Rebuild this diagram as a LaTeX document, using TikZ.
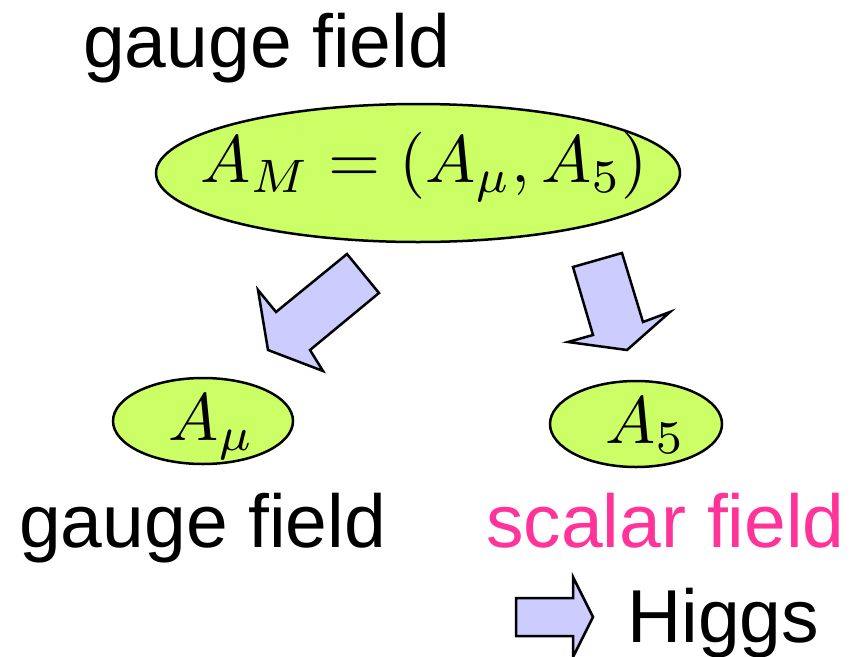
\documentclass[tikz,border=0pt]{standalone}
\usepackage{fontspec}
\setmainfont{Liberation Sans}
\usetikzlibrary{shapes.geometric}
\definecolor{ellfill}{HTML}{CCFF66}
\definecolor{arrfill}{HTML}{CCCCFF}
\definecolor{pinkt}{HTML}{FF3399}
\tikzset{
  ell/.style={ellipse, draw=black, line width=2.5pt, fill=ellfill, inner sep=0pt},
  blockarrow/.style={draw=black, line width=2.5pt, fill=arrfill, line join=miter},
  lbl/.style={font=\fontsize{75}{80}\selectfont, inner sep=0pt, anchor=base west},
  mathtxt/.style={font=\fontsize{10}{12}\selectfont, scale=6.7, inner sep=0pt, anchor=base west}
}
\begin{document}
\begin{tikzpicture}[x=1pt,y=-1pt]
\useasboundingbox (0,0) rectangle (854,656);
% top label
\node[lbl] (top) at (83,67) {gauge field};
% big ellipse
\node[ell, minimum width=524pt, minimum height=138pt] (AM) at (418,173) {};
\node[mathtxt] (AMt) at (199,182) {$A_M = (A_\mu, A_5)$};
% block arrows
\draw[blockarrow] (347,254) -- (379,293) -- (310,350) -- (323,371) -- (268,350) -- (258,290) -- (276,312) -- cycle;
\draw[blockarrow] (573,267) -- (622,253) -- (643,322) -- (670,312) -- (627,350) -- (568,342) -- (593,335) -- cycle;
% small ellipses
\node[ell, minimum width=180pt, minimum height=86pt] (Amu) at (203,421) {};
\node[mathtxt] (Amut) at (167,440) {$A_\mu$};
\node[ell, minimum width=172pt, minimum height=86pt] (A5) at (636,424) {};
\node[mathtxt] (A5t) at (604,443) {$A_5$};
% bottom labels
\node[lbl] (gf) at (19,547) {gauge field};
\node[lbl, text=pinkt] (sf) at (486,547) {scalar field};
\draw[blockarrow] (516,598) -- (573,598) -- (573,577) -- (593,617) -- (573,657) -- (573,636) -- (516,636) -- cycle;
\node[lbl] (higgs) at (627,642) {Higgs};
\end{tikzpicture}
\end{document}
